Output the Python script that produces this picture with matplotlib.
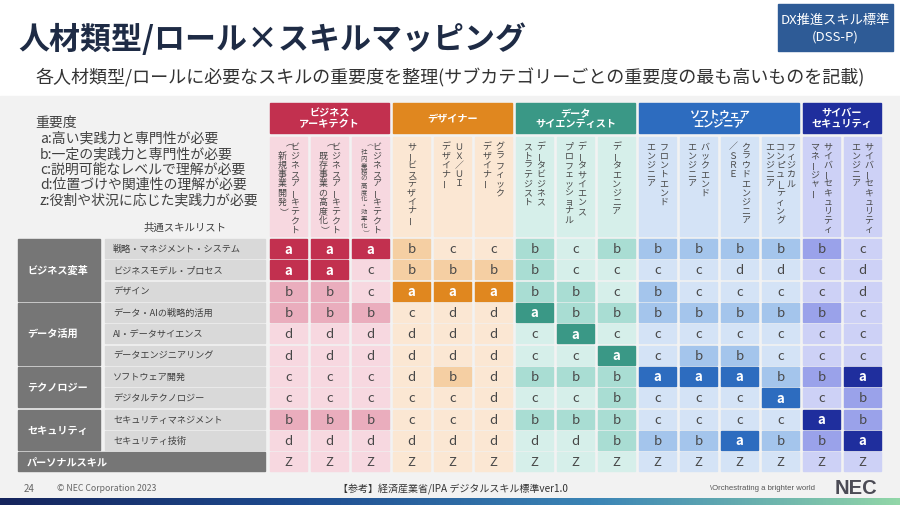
import matplotlib
matplotlib.use("agg")
import matplotlib.pyplot as plt
from matplotlib.patches import Rectangle
from matplotlib.colors import LinearSegmentedColormap
import numpy as np

plt.rcParams["font.family"] = ["Noto Sans CJK JP", "DejaVu Sans"]

# role groups (header labels) and how many roles each has
groups = ["ビジネス\nアーキテクト", "デザイナー", "データ\nサイエンティスト",
          "ソフトウェア\nエンジニア", "サイバー\nセキュリティ"]
group_sizes = [3, 3, 3, 4, 2]
group_dark = ["#C2304F", "#E0871F", "#3A9886", "#2D6CBF", "#1F2E9D"]
group_mid = ["#EAADBD", "#F5CFA3", "#A9DDD3", "#A4C5EC", "#9AA2EA"]
group_light = ["#F7D8E0", "#FBE7D3", "#D6EFEA", "#D4E3F6", "#CDD1F6"]

# role names, written vertically; lines go right to left
roles = [
    ["ビジネスアーキテクト", "（新規事業開発）"],
    ["ビジネスアーキテクト", "（既存事業の高度化）"],
    ["ビジネスアーキテクト", "（社内業務の高度化・効率化）"],
    ["サービスデザイナー"],
    ["ＵＸ／ＵＩ", "デザイナー"],
    ["グラフィック", "デザイナー"],
    ["データビジネス", "ストラテジスト"],
    ["データサイエンス", "プロフェッショナル"],
    ["データエンジニア"],
    ["フロントエンド", "エンジニア"],
    ["バックエンド", "エンジニア"],
    ["クラウドエンジニア", "／ＳＲＥ"],
    ["フィジカル", "コンピューティング", "エンジニア"],
    ["サイバーセキュリティ", "マネージャー"],
    ["サイバーセキュリティ", "エンジニア"],
]

categories = ["ビジネス変革", "データ活用", "テクノロジー", "セキュリティ", "パーソナルスキル"]
category_sizes = [3, 3, 2, 2, 1]
skills = ["戦略・マネジメント・システム", "ビジネスモデル・プロセス", "デザイン",
          "データ・AIの戦略的活用", "AI・データサイエンス", "データエンジニアリング",
          "ソフトウェア開発", "デジタルテクノロジー",
          "セキュリティマネジメント", "セキュリティ技術", ""]

levels = [
    "a a a  b c c  b c b  b b b b  b c".split(),
    "a a c  b b b  b c c  c c d d  c d".split(),
    "b b c  a a a  b b c  b c c c  c d".split(),
    "b b b  c d d  a b b  b b b b  b c".split(),
    "d d d  d d d  c a c  c c c c  c c".split(),
    "d d d  d d d  c c a  c b b c  c c".split(),
    "c c c  d b d  b b b  a a a b  b a".split(),
    "c c c  c c d  c c b  c c c a  c b".split(),
    "b b b  c c d  b b b  c c c c  a b".split(),
    "d d d  d d d  d d b  b b a b  b a".split(),
    "Z Z Z  Z Z Z  Z Z Z  Z Z Z Z  Z Z".split(),
]

legend_title = "重要度"
legend_lines = ["a:高い実践力と専門性が必要",
                "b:一定の実践力と専門性が必要",
                "c:説明可能なレベルで理解が必要",
                "d:位置づけや関連性の理解が必要",
                "z:役割や状況に応じた実践力が必要"]

# layout (pixels)
W, H = 900, 506
X0, PITCH, CW = 270, 41, 37
Y0, RP, RH = 240, 21.33, 19
TXT = "#474747"

fig = plt.figure(figsize=(9, 5.06), dpi=100)
ax = fig.add_axes([0, 0, 1, 1])

ax.add_patch(Rectangle((0, 97), W, 402, color="#F2F2F2", zorder=0))
cmap = LinearSegmentedColormap.from_list("bar", ["#15245C", "#1E4C90", "#3C86B6", "#92D6A8"])
ax.imshow(np.linspace(0, 1, 256)[None, :], extent=(0, W, H, 499), cmap=cmap, aspect="auto", zorder=1)

# title block
ax.text(18, 40, "人材類型/ロール×スキルマッピング", fontsize=22.3, fontweight="bold",
        color="#1E2B45", va="center")
ax.text(35, 78, "各人材類型/ロールに必要なスキルの重要度を整理(サブカテゴリーごとの重要度の最も高いものを記載)",
        fontsize=13, color="#333333", va="center")
ax.add_patch(Rectangle((778, 5), 115, 47, color="#2E5B96", zorder=2))
ax.text(835.5, 20, "DX推進スキル標準", fontsize=9.5, color="white", ha="center", va="center", zorder=3)
ax.text(835.5, 37, "(DSS-P)", fontsize=9.5, color="white", ha="center", va="center", zorder=3)

# legend
ax.text(35, 123, legend_title, fontsize=10, color="#404040", va="center")
for k, line in enumerate(legend_lines):
    ax.text(40, 138.5 + k * 15.5, line, fontsize=10, color="#404040", va="center")
ax.text(185, 228, "共通スキルリスト", fontsize=7.5, color="#404040", ha="center", va="center")


def vtext(x, top, s, step, size):
    for k, ch in enumerate(s):
        rot = 0
        if ch == "ー":
            rot = 90
        elif ch in "（）":
            rot = -90
        ax.text(x, top + step * (k + 0.5), ch, fontsize=size, color=TXT,
                ha="center", va="center", rotation=rot, zorder=3)


offsets = {1: [0], 2: [6.5, -6.5], 3: [10.5, 0, -10.5]}

# column headers
col_group = []
start = 0
for g, (name, n) in enumerate(zip(groups, group_sizes)):
    left = X0 + start * PITCH
    right = X0 + (start + n - 1) * PITCH + CW
    ax.add_patch(Rectangle((left, 104), right - left, 30, color=group_dark[g], zorder=2))
    ax.text((left + right) / 2, 119, name, fontsize=7.3, fontweight="bold", color="white",
            ha="center", va="center", linespacing=1.05, zorder=3)
    col_group += [g] * n
    start += n

for j, lines in enumerate(roles):
    g = col_group[j]
    left = X0 + j * PITCH
    ax.add_patch(Rectangle((left, 138), CW, 99, color=group_light[g], zorder=2))
    cx = left + CW / 2
    for off, line in zip(offsets[len(lines)], lines):
        step = min(9.2, 93 / len(line))
        vtext(cx + off, 142.5, line, step, step * 0.7)

# row labels
r = 0
for c, (cat, n) in enumerate(zip(categories, category_sizes)):
    top = Y0 + r * RP
    bottom = Y0 + (r + n - 1) * RP + RH
    full = skills[r] == ""
    width = (265 - 18) if full else 82
    ax.add_patch(Rectangle((18, top), width, bottom - top, color="#767676", zorder=2))
    ax.text(27, (top + bottom) / 2, cat, fontsize=7.3, fontweight="bold", color="white",
            va="center", zorder=3)
    r += n

for i, name in enumerate(skills):
    if name == "":
        continue
    top = Y0 + i * RP
    ax.add_patch(Rectangle((105, top), 160, RH, color="#D9D9D9", zorder=2))
    ax.text(113, top + RH / 2, name, fontsize=6.6, color="#3F3F3F", va="center", zorder=3)

# cells
for i, row in enumerate(levels):
    for j, v in enumerate(row):
        g = col_group[j]
        fc = group_dark[g] if v == "a" else group_mid[g] if v == "b" else group_light[g]
        x = X0 + j * PITCH
        y = Y0 + i * RP
        ax.add_patch(Rectangle((x, y), CW, RH, color=fc, zorder=2))
        ax.text(x + CW / 2, y + RH / 2, v, fontsize=9.5,
                color="white" if v == "a" else TXT,
                fontweight="bold" if v == "a" else "normal",
                ha="center", va="center", zorder=3)

# footer
ax.text(24, 489, "24", fontsize=7, color="#666666", va="center")
ax.text(57, 489, "© NEC Corporation 2023", fontsize=6.3, color="#666666", va="center")
ax.text(453, 489, "【参考】経済産業省/IPA デジタルスキル標準ver1.0", fontsize=7.2,
        color="#333333", ha="center", va="center")
ax.text(710, 489, "\\Orchestrating a brighter world", fontsize=5.6, color="#555555",
        va="center", family=["Liberation Sans", "DejaVu Sans"])
ax.text(856, 488.5, "NEC", fontsize=14.5, fontweight="bold", color="#4B4B55",
        ha="center", va="center", family=["Liberation Sans", "DejaVu Sans"])

ax.set_xlim(0, W)
ax.set_ylim(H, 0)
ax.axis("off")
fig.savefig("out.png", dpi=100)
